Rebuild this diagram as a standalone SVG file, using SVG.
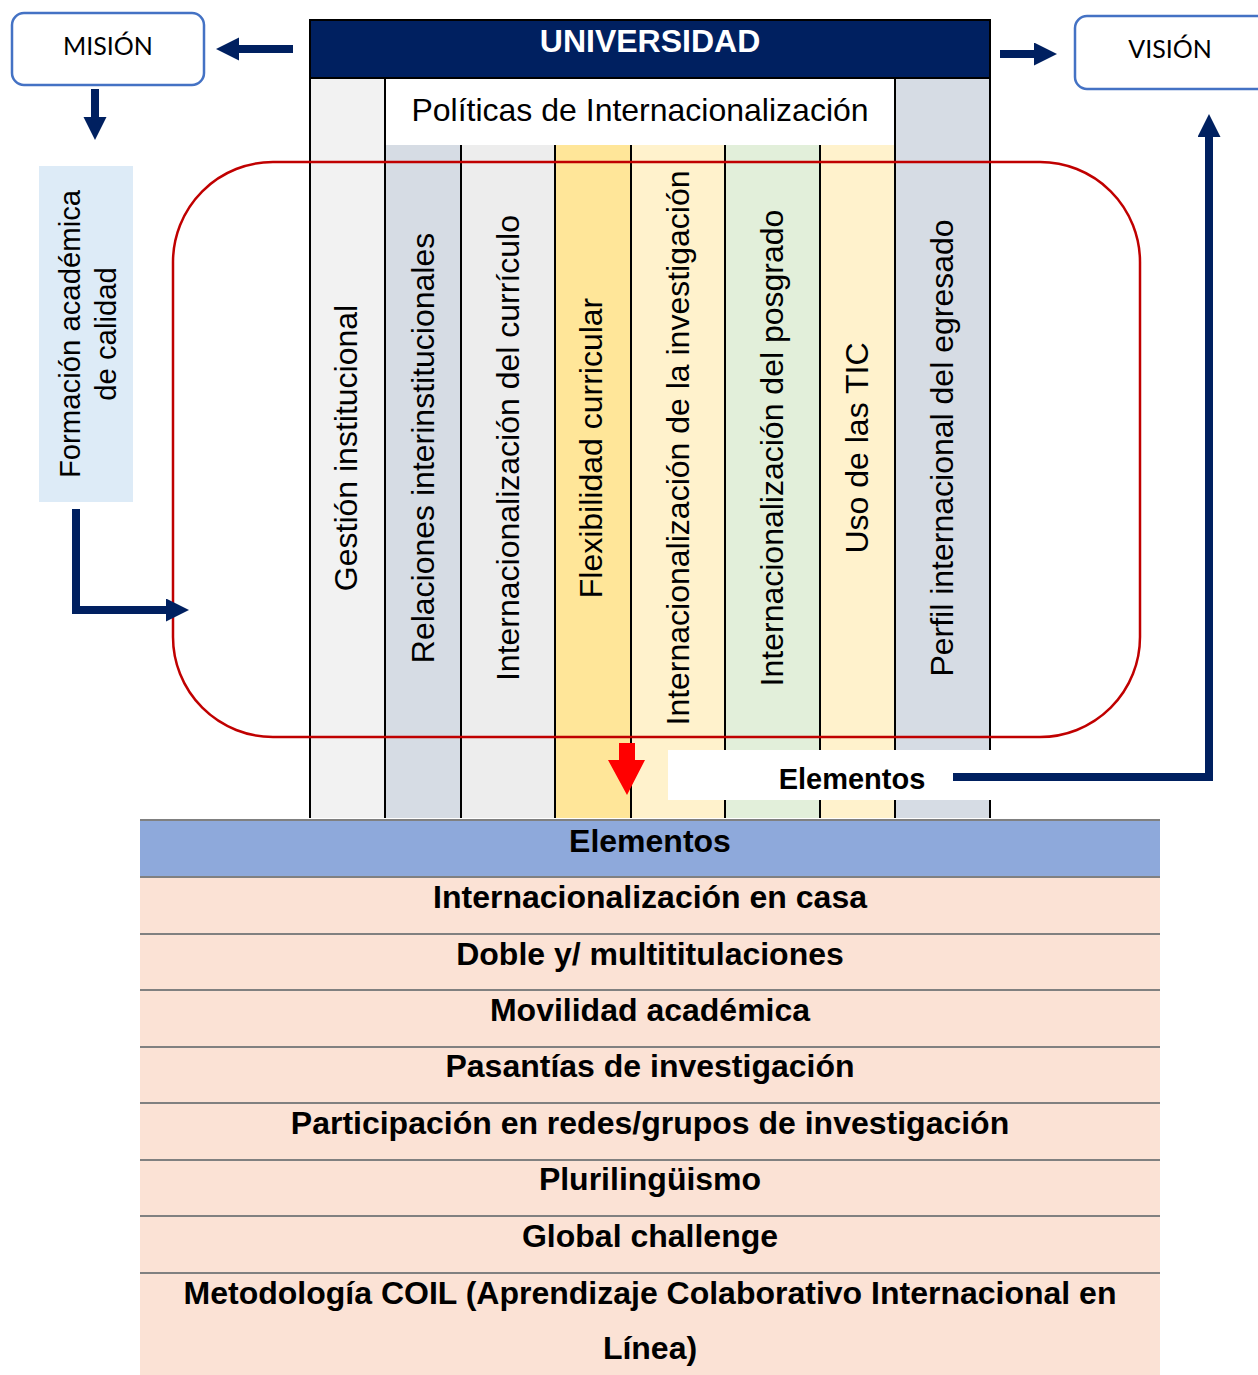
<svg xmlns="http://www.w3.org/2000/svg" width="1258" height="1375" viewBox="0 0 1258 1375">
<style>
.t{font-family:"Liberation Sans",Arial,sans-serif;fill:#000}
.v{font-size:32px;text-anchor:middle}
.row{font-size:32px;font-weight:bold;text-anchor:middle}
.cal{font-family:Lato,"Open Sans",sans-serif;font-size:25px;text-anchor:middle;fill:#000}
.box{fill:#fff;stroke:#4472C4;stroke-width:2.5}
.col{stroke:#000;stroke-width:2}
.sep{stroke:#808080;stroke-width:2}
.nav{fill:none;stroke:#002060;stroke-width:8;stroke-linejoin:miter}
</style>
<defs>
<marker id="ah" markerUnits="userSpaceOnUse" markerWidth="24" markerHeight="24" refX="1" refY="11.5" orient="auto">
<path d="M0,0 L23,11.5 L0,23 Z" fill="#002060"/>
</marker>
</defs>
<rect width="1258" height="1375" fill="#fff"/>

<g id="columns">
<rect x="310" y="78" width="75" height="740" fill="#F2F2F2"/>
<rect x="385" y="145" width="76" height="673" fill="#D6DCE4"/>
<rect x="461" y="145" width="94" height="673" fill="#EDEDED"/>
<rect x="555" y="145" width="76" height="673" fill="#FFE699"/>
<rect x="631" y="145" width="94" height="673" fill="#FFF2CC"/>
<rect x="725" y="145" width="95" height="673" fill="#E2EFDA"/>
<rect x="820" y="145" width="75" height="673" fill="#FFF2CC"/>
<rect x="895" y="78" width="95" height="740" fill="#D6DCE4"/>
<line class="col" x1="385" y1="78" x2="385" y2="818"/>
<line class="col" x1="895" y1="78" x2="895" y2="818"/>
<line class="col" x1="461" y1="145" x2="461" y2="818"/>
<line class="col" x1="555" y1="145" x2="555" y2="818"/>
<line class="col" x1="631" y1="145" x2="631" y2="818"/>
<line class="col" x1="725" y1="145" x2="725" y2="818"/>
<line class="col" x1="820" y1="145" x2="820" y2="818"/>
<line class="col" x1="310" y1="20" x2="310" y2="818"/>
<line class="col" x1="990" y1="20" x2="990" y2="818"/>
<text class="t v" transform="translate(357,448) rotate(-90)">Gestión institucional</text>
<text class="t v" transform="translate(434,448) rotate(-90)">Relaciones interinstitucionales</text>
<text class="t v" transform="translate(519,448) rotate(-90)">Internacionalización del currículo</text>
<text class="t v" transform="translate(602,448) rotate(-90)">Flexibilidad curricular</text>
<text class="t v" transform="translate(689,448) rotate(-90)">Internacionalización de la investigación</text>
<text class="t v" transform="translate(783,448) rotate(-90)">Internacionalización del posgrado</text>
<text class="t v" transform="translate(868,448) rotate(-90)">Uso de las TIC</text>
<text class="t v" transform="translate(953,448) rotate(-90)">Perfil internacional del egresado</text>
</g>

<g id="universidad">
<rect x="310" y="20" width="680" height="58" fill="#002060" stroke="#000" stroke-width="2"/>
<text class="t" x="650" y="52" font-size="32" font-weight="bold" text-anchor="middle" style="fill:#fff">UNIVERSIDAD</text>
</g>

<g id="politicas">
<rect x="386" y="79" width="508" height="66" fill="#fff"/>
<text class="t" x="640" y="121" font-size="32" text-anchor="middle">Políticas de Internacionalización</text>
</g>

<g id="contorno">
<rect x="173" y="162" width="967" height="575" rx="100" ry="100" fill="none" stroke="#C00000" stroke-width="2.5"/>
</g>

<g id="mision">
<rect class="box" x="12" y="13" width="192" height="72" rx="12"/>
<text class="cal" x="108" y="55">MISIÓN</text>
</g>

<g id="vision">
<rect class="box" x="1075" y="16" width="200" height="73" rx="12"/>
<text class="cal" x="1170" y="58">VISIÓN</text>
</g>

<g id="formacion">
<rect x="39" y="166" width="94" height="336" fill="#DDEBF7"/>
<text class="t" font-size="29.3" text-anchor="middle" transform="translate(80,334) rotate(-90)">Formación académica</text>
<text class="t" font-size="29.3" text-anchor="middle" transform="translate(116,334) rotate(-90)">de calidad</text>
</g>

<g id="elementos-label">
<rect x="668" y="750" width="324" height="50" fill="#fff"/>
<text class="t" x="852" y="789" font-size="29" font-weight="bold" text-anchor="middle">Elementos</text>
</g>

<g id="tabla">
<rect x="140" y="820" width="1020" height="57" fill="#8EA9DB"/>
<rect x="140" y="877" width="1020" height="498" fill="#FBE2D5"/>
<line class="sep" x1="140" y1="820" x2="1160" y2="820"/>
<line class="sep" x1="140" y1="877" x2="1160" y2="877"/>
<line class="sep" x1="140" y1="934" x2="1160" y2="934"/>
<line class="sep" x1="140" y1="990" x2="1160" y2="990"/>
<line class="sep" x1="140" y1="1047" x2="1160" y2="1047"/>
<line class="sep" x1="140" y1="1103" x2="1160" y2="1103"/>
<line class="sep" x1="140" y1="1160" x2="1160" y2="1160"/>
<line class="sep" x1="140" y1="1216" x2="1160" y2="1216"/>
<line class="sep" x1="140" y1="1273" x2="1160" y2="1273"/>
<text class="t row" x="650" y="852">Elementos</text>
<text class="t row" x="650" y="908">Internacionalización en casa</text>
<text class="t row" x="650" y="965">Doble y/ multititulaciones</text>
<text class="t row" x="650" y="1021">Movilidad académica</text>
<text class="t row" x="650" y="1077">Pasantías de investigación</text>
<text class="t row" x="650" y="1134">Participación en redes/grupos de investigación</text>
<text class="t row" x="650" y="1190">Plurilingüismo</text>
<text class="t row" x="650" y="1247">Global challenge</text>
<text class="t row" x="650" y="1304">Metodología COIL (Aprendizaje Colaborativo Internacional en</text>
<text class="t row" x="650" y="1359">Línea)</text>
</g>

<g id="connectors">
<line class="nav" x1="293" y1="49" x2="238" y2="49" marker-end="url(#ah)"/>
<line class="nav" x1="95" y1="89" x2="95" y2="118" marker-end="url(#ah)"/>
<line class="nav" x1="1000" y1="54" x2="1035" y2="54" marker-end="url(#ah)"/>
<polyline class="nav" points="953,777 1209,777 1209,136" marker-end="url(#ah)"/>
<polyline class="nav" points="76,509 76,610 167,610" marker-end="url(#ah)"/>
<polygon points="619,743 635,743 635,760 645,760 627,795 608,760 619,760" fill="#FF0000"/>
</g>
</svg>
